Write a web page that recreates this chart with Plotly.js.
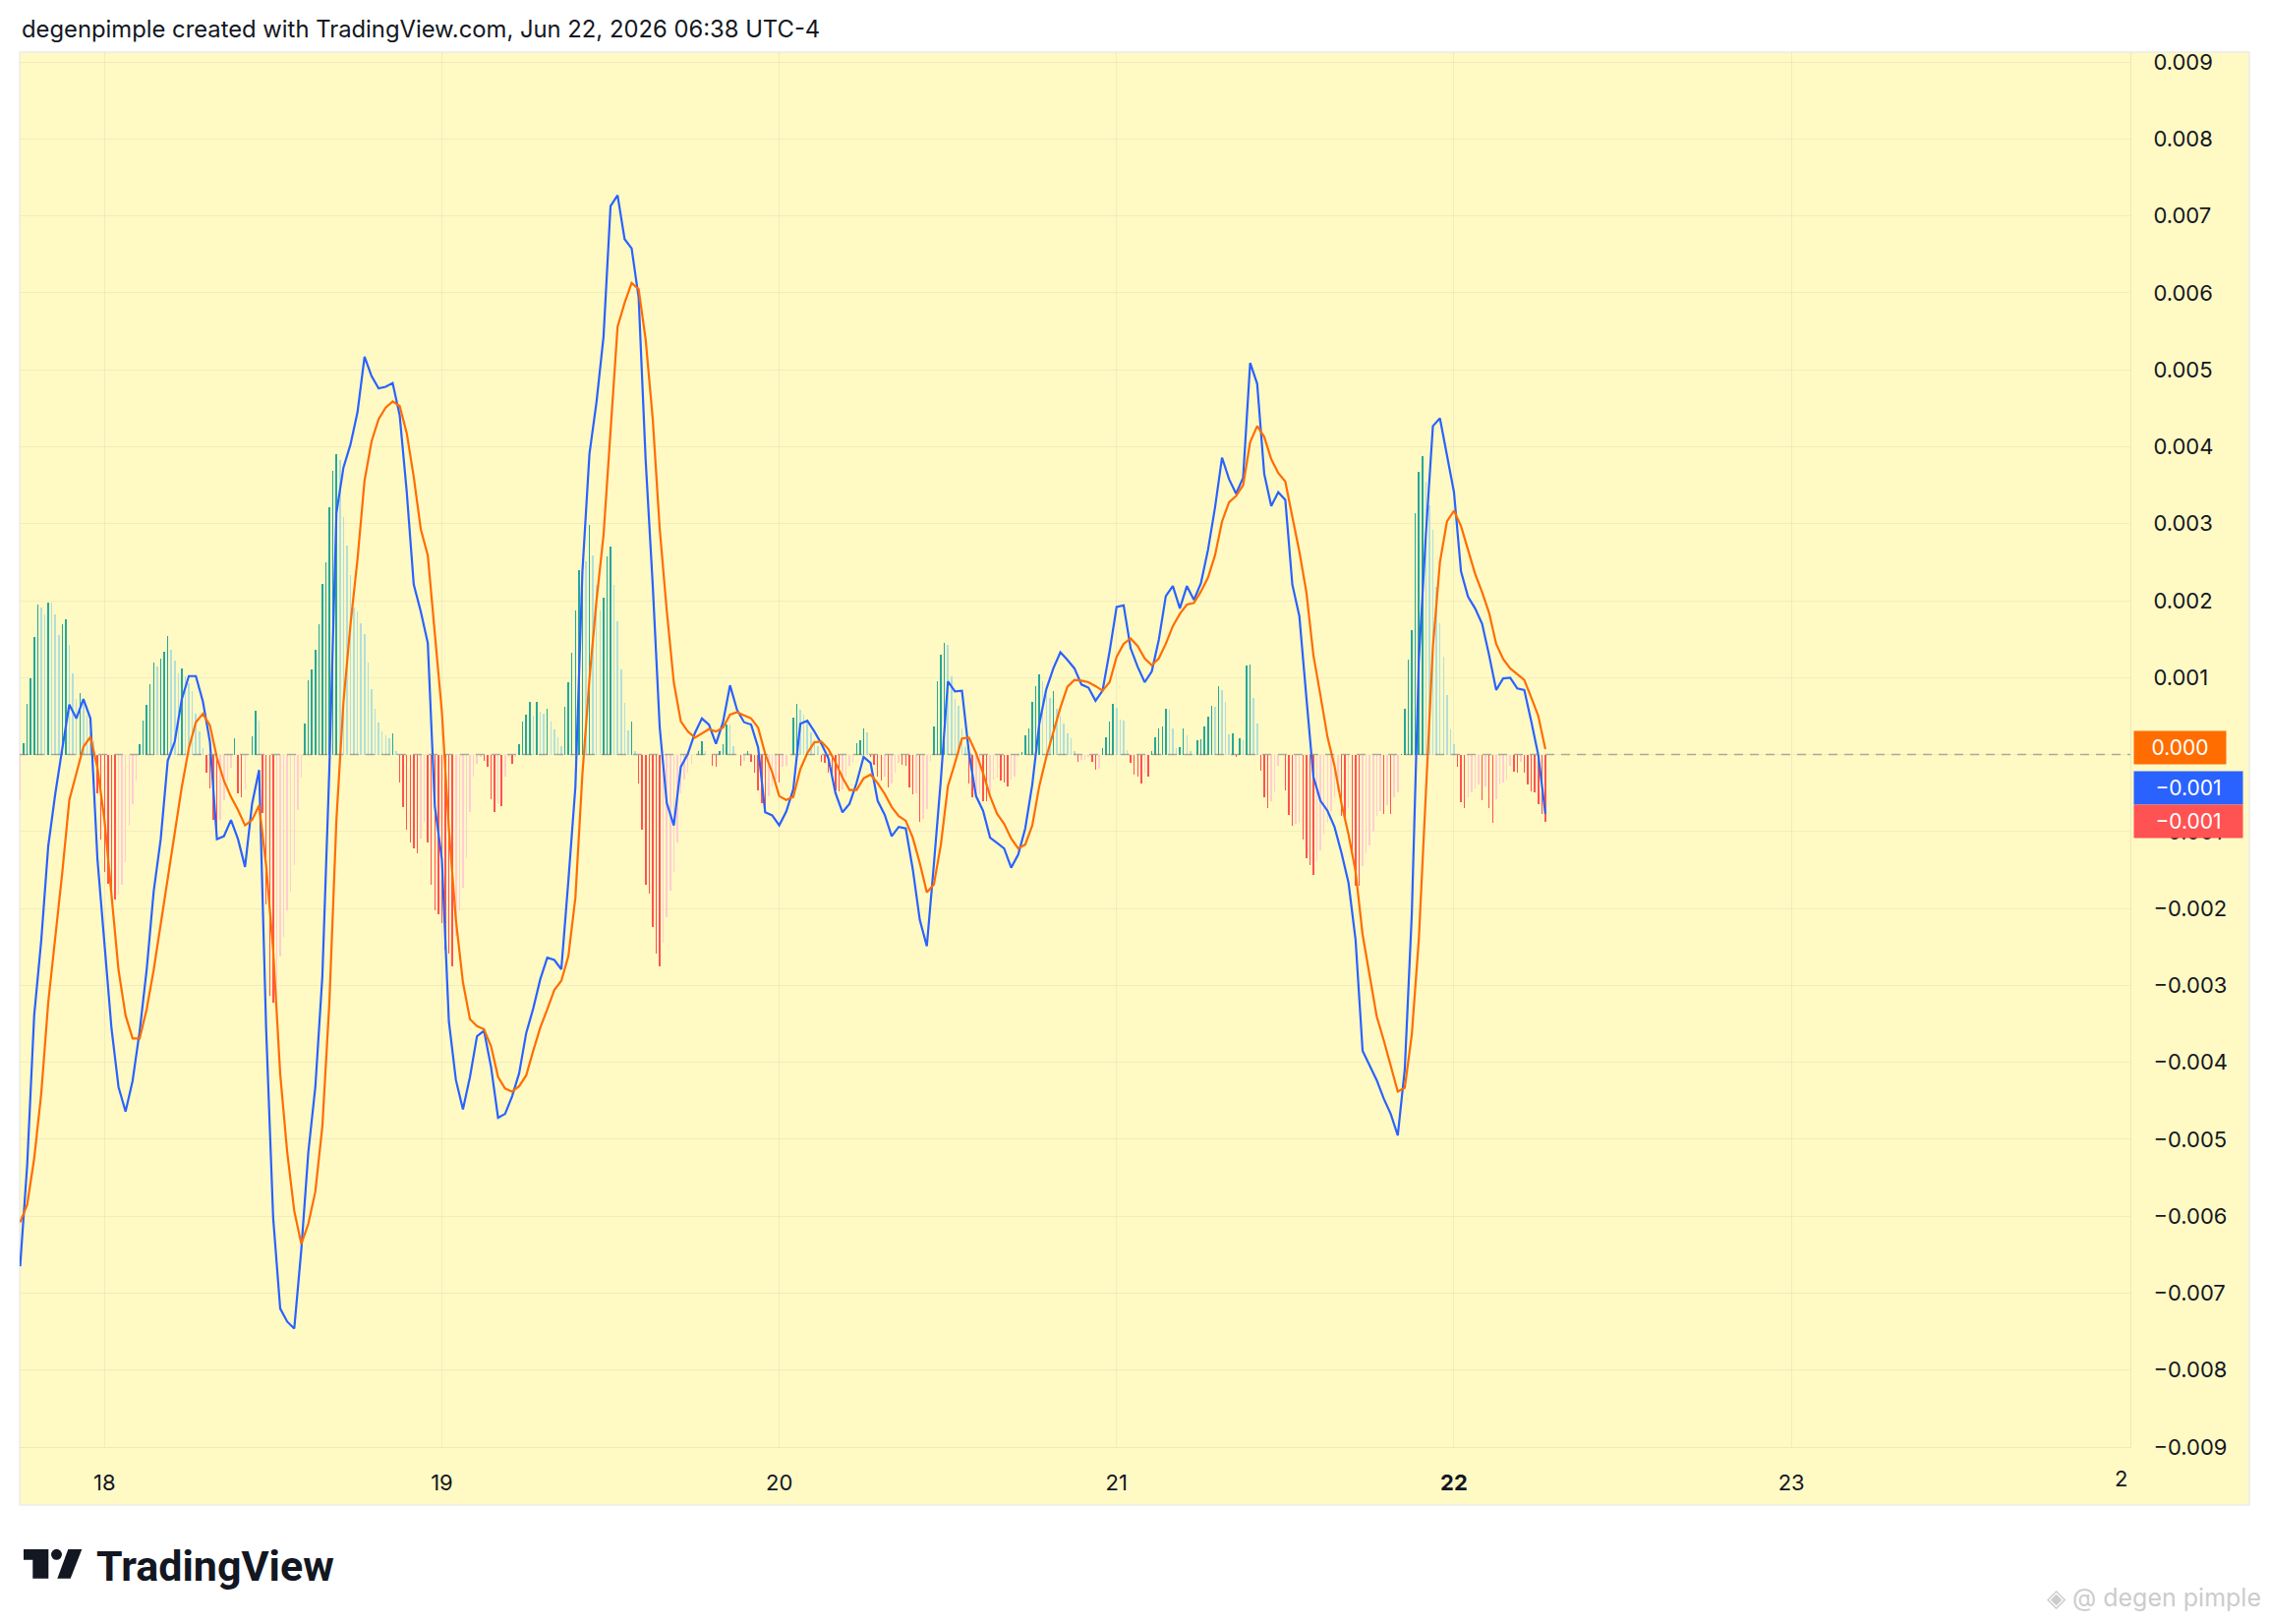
<!DOCTYPE html>
<html>
<head>
<meta charset="utf-8">
<script src="https://cdn.plot.ly/plotly-3.0.1.min.js"></script>
<style>
  html, body { margin: 0; padding: 0; background: #ffffff; }
  #chart { width: 2308px; height: 1652px; }
</style>
</head>
<body>
<div id="chart"></div>
<script>
// MACD panel, 15 min bars, Jun 17 18:00 -> Jun 22 06:30
// lines are read every 30 min, histogram every bar (15 min)

const LINE_START = Date.UTC(2026, 5, 17, 18, 0);
const LINE_STEP_MIN = 30;
const BAR_START = Date.UTC(2026, 5, 17, 18, 0);
const BAR_STEP_MIN = 15;

const macdLine = [
  // 17th, from 18:00
  -0.00665, -0.00534, -0.00339, -0.00242, -0.00119, -0.00051, 0.00008, 0.00065, 0.00047, 0.00072, 0.00047, -0.00136,
  // 18th
  -0.00246, -0.00356, -0.00432, -0.00464, -0.00424, -0.0036, -0.0028, -0.00178, -0.0011, -0.00008, 0.00017, 0.00072,
  0.00102, 0.00102, 0.00069, 0.00017, -0.0011, -0.00106, -0.00085, -0.0011, -0.00146, -0.00064, -0.0002, -0.00356,
  -0.00602, -0.0072, -0.00737, -0.00746, -0.00644, -0.00517, -0.00432, -0.00288, -0.00017, 0.00314, 0.00373, 0.00403,
  0.00445, 0.00517, 0.00492, 0.00476, 0.00478, 0.00483, 0.00441, 0.00342, 0.00221, 0.00186, 0.00145, -0.00067,
  // 19th
  -0.00136, -0.00347, -0.00423, -0.00461, -0.00419, -0.00366, -0.00359, -0.00406, -0.00472, -0.00467, -0.00444, -0.00414,
  -0.00362, -0.0033, -0.00292, -0.00264, -0.00267, -0.00279, -0.00164, -0.00042, 0.00238, 0.00391, 0.00458, 0.00543,
  0.00713, 0.00727, 0.0067, 0.00658, 0.00594, 0.00382, 0.00221, 0.00035, -0.00063, -0.00092, -0.00016, 0.00001,
  0.00028, 0.00047, 0.00039, 0.00014, 0.00042, 0.0009, 0.00058, 0.00042, 0.00039, 0.00009, -0.00075, -0.00079,
  // 20th
  -0.00092, -0.00074, -0.00045, 0.0004, 0.00044, 0.0003, 0.00014, -0.00005, -0.0005, -0.00075, -0.00064, -0.00037,
  -0.00003, -0.00011, -0.0006, -0.00078, -0.00106, -0.00094, -0.00096, -0.00149, -0.00215, -0.00249, -0.00143, -0.00032,
  0.00095, 0.00082, 0.00083, 0.00002, -0.00054, -0.00073, -0.00108, -0.00115, -0.00122, -0.00147, -0.0013, -0.00096,
  -0.00039, 0.0004, 0.00085, 0.00112, 0.00133, 0.00123, 0.00112, 0.00091, 0.00087, 0.0007, 0.00083, 0.00134,
  // 21st
  0.00192, 0.00194, 0.00138, 0.00114, 0.00094, 0.00108, 0.00149, 0.00206, 0.00219, 0.0019, 0.00219, 0.00201,
  0.00223, 0.00266, 0.00321, 0.00386, 0.00358, 0.00339, 0.0036, 0.00509, 0.00482, 0.00365, 0.00323, 0.00341,
  0.00331, 0.00221, 0.0018, 0.00074, -0.00029, -0.0006, -0.00073, -0.00094, -0.00128, -0.00167, -0.00241, -0.00385,
  -0.00405, -0.00423, -0.00447, -0.00467, -0.00495, -0.00409, -0.00207, 0.00122, 0.00286, 0.00427, 0.00437, 0.00389,
  // 22nd, to 06:30
  0.00341, 0.00238, 0.00205, 0.0019, 0.0017, 0.00129, 0.00084, 0.00099, 0.001, 0.00086, 0.00084, 0.00043, -0.00001, -0.00077
];

const signalLine = [
  -0.00608, -0.00585, -0.00525, -0.00441, -0.00322, -0.00237, -0.00153, -0.00059, -0.00025, 0.0001, 0.00023, -0.00017,
  -0.00085, -0.00186, -0.0028, -0.00339, -0.00369, -0.00369, -0.00331, -0.0028, -0.0022, -0.00161, -0.00102, -0.00042,
  0.00008, 0.00042, 0.00053, 0.00038, -0.00004, -0.00034, -0.00055, -0.00072, -0.00092, -0.00085, -0.00066, -0.00144,
  -0.00254, -0.00415, -0.00517, -0.00593, -0.00636, -0.0061, -0.00568, -0.00483, -0.00322, -0.00085, 0.00068, 0.00169,
  0.00254, 0.00356, 0.00407, 0.00436, 0.00451, 0.00459, 0.00453, 0.00418, 0.00361, 0.00293, 0.00259, 0.00158,
  0.00056, -0.00097, -0.00215, -0.00296, -0.00344, -0.00353, -0.00357, -0.00379, -0.00419, -0.00434, -0.00438, -0.00431,
  -0.00417, -0.00385, -0.00355, -0.00331, -0.00306, -0.00294, -0.00262, -0.00186, -0.00025, 0.00098, 0.002, 0.00285,
  0.00425, 0.00556, 0.00587, 0.00613, 0.00605, 0.00539, 0.00437, 0.00293, 0.00187, 0.00094, 0.00043, 0.0003,
  0.00022, 0.00027, 0.00033, 0.0003, 0.00035, 0.00052, 0.00055, 0.00051, 0.00047, 0.00035, 0.00001, -0.00023,
  -0.00054, -0.00059, -0.00055, -0.00019, 0.00002, 0.00016, 0.00017, 0.00007, -0.0001, -0.0003, -0.00046, -0.00046,
  -0.00031, -0.00026, -0.00037, -0.00051, -0.00068, -0.0008, -0.00086, -0.00108, -0.00141, -0.00179, -0.00169, -0.00117,
  -0.00041, -0.00011, 0.00021, 0.00022, 0.00002, -0.00024, -0.00054, -0.00077, -0.0009, -0.00109, -0.00122, -0.00117,
  -0.00092, -0.00041, -0.00003, 0.00029, 0.00061, 0.00088, 0.00097, 0.00096, 0.00094, 0.00089, 0.00083, 0.00094,
  0.00127, 0.00144, 0.00151, 0.00141, 0.00125, 0.00116, 0.00125, 0.00144, 0.00167, 0.00183, 0.00195, 0.00197,
  0.00212, 0.0023, 0.00259, 0.00303, 0.00328, 0.00336, 0.0035, 0.00406, 0.00427, 0.00413, 0.00384, 0.00366,
  0.00355, 0.00309, 0.00264, 0.00211, 0.00129, 0.00077, 0.00023, -0.00015, -0.00064, -0.00104, -0.00152, -0.00234,
  -0.00286, -0.0034, -0.00371, -0.00405, -0.00438, -0.00433, -0.00364, -0.0024, -0.0004, 0.0014, 0.0025, 0.00303,
  0.00317, 0.00297, 0.00266, 0.00235, 0.00211, 0.00184, 0.00144, 0.00124, 0.00112, 0.00105, 0.00097, 0.00074, 0.0005, 0.00007
];

const histBars = [
  // 17th, from 18:00
  -0.00059, 0.00015, 0.00066, 0.00099, 0.00153, 0.00195, 0.00191, 0.00182, 0.00197, 0.00197, 0.00182, 0.00155,
  0.00169, 0.00176, 0.00142, 0.00106, 0.00072, 0.0008, 0.00068, 0.00051, 0.0003, 0.00017, -0.0005, -0.0011,
  // 18th
  -0.00153, -0.00168, -0.00178, -0.00188, -0.00182, -0.00169, -0.0014, -0.00093, -0.00064, -0.00034, 0.00013, 0.00044,
  0.00065, 0.00092, 0.00119, 0.00114, 0.00125, 0.00133, 0.00154, 0.00136, 0.00122, 0.00105, 0.00112, 0.00102,
  0.00093, 0.00082, 0.00053, 0.0003, 0.00008, -0.00024, -0.00044, -0.00085, -0.0011, -0.00085, -0.00059, -0.00034,
  -0.00017, 0.00021, -0.0005, -0.00056, -0.00045, 0.0, 0.00024, 0.00057, 0.00044, -0.00076, -0.00195, -0.00314,
  -0.00322, -0.00318, -0.00263, -0.00237, -0.00203, -0.00178, -0.00144, -0.00072, -0.0003, 0.0004, 0.00097, 0.0011,
  0.00136, 0.00169, 0.00222, 0.0025, 0.00322, 0.00369, 0.0039, 0.00383, 0.00309, 0.00271, 0.00233, 0.00191,
  0.00186, 0.00171, 0.00157, 0.00119, 0.00085, 0.00059, 0.00042, 0.0003, 0.00025, 0.00021, 0.00028, 0.00004,
  -0.00036, -0.00068, -0.00097, -0.00114, -0.00122, -0.00128, -0.00109, -0.00088, -0.00114, -0.00169, -0.00203, -0.00207,
  // 19th
  -0.00219, -0.00253, -0.00258, -0.00275, -0.00236, -0.00203, -0.00173, -0.00135, -0.00075, -0.00029, -0.00012, -0.00003,
  -0.00008, -0.00016, -0.00058, -0.00075, -0.00063, -0.00067, -0.00029, -0.00003, -0.00012, -0.00003, 0.00014, 0.00043,
  0.00052, 0.00069, 0.0005, 0.00069, 0.00056, 0.00053, 0.0006, 0.00043, 0.00033, 0.00022, 0.00011, 0.00062,
  0.00094, 0.00132, 0.00187, 0.0024, 0.00255, 0.00251, 0.00299, 0.00259, 0.00221, 0.00187, 0.00204, 0.00258,
  0.0027, 0.00221, 0.00173, 0.00111, 0.00067, 0.00031, 0.00043, 0.00005, -0.00037, -0.00097, -0.00169, -0.00181,
  -0.00224, -0.00258, -0.00275, -0.00245, -0.00211, -0.00177, -0.00152, -0.00114, -0.0005, -0.00033, -0.00023, -0.00012,
  0.0, 0.00005, 0.00018, 0.00005, 0.0, -0.00014, -0.00016, 0.00005, 0.00014, 0.00039, 0.00039, 0.00011,
  0.0, -0.00014, -0.00008, 0.00005, -0.00009, -0.00023, -0.00046, -0.00063, -0.00075, -0.00054, -0.00042, -0.00033,
  // 20th
  -0.00036, -0.00016, -0.00014, 0.0, 0.00048, 0.00066, 0.00058, 0.00052, 0.00044, 0.00029, 0.00019, 0.00011,
  -0.00009, -0.00011, -0.00024, -0.00034, -0.00047, -0.00048, -0.00045, -0.00028, -0.00015, -0.00011, 0.00015, 0.00019,
  0.00034, 0.00029, -0.00003, -0.00013, -0.00028, -0.00034, -0.00028, -0.00043, -0.00037, -0.00024, -0.00011, -0.00013,
  -0.00015, -0.00043, -0.00051, -0.0005, -0.00087, -0.00083, -0.00071, -0.0001, 0.00036, 0.00095, 0.0013, 0.00145,
  0.00142, 0.00102, 0.00072, 0.00063, 0.00034, 0.0001, -0.00037, -0.00056, -0.00054, -0.00051, -0.0006, -0.00061,
  -0.00049, -0.00032, -0.0003, -0.00034, -0.00036, -0.00041, -0.00032, -0.00028, -0.00003, 0.00003, 0.00025, 0.00034,
  0.00069, 0.00089, 0.00104, 0.00095, 0.00078, 0.00074, 0.00083, 0.00059, 0.00051, 0.00041, 0.00027, 0.00021,
  0.00005, -0.00009, -0.00007, -0.00007, -0.00003, -0.00009, -0.0002, -0.00019, 0.00008, 0.00023, 0.00043, 0.00066,
  // 21st
  0.00061, 0.00046, 0.00044, 0.00006, -0.00011, -0.00026, -0.00028, -0.00037, -0.00024, -0.00028, 0.00005, 0.00023,
  0.00034, 0.00036, 0.0006, 0.00058, 0.00034, 0.00008, 0.0001, 0.00034, 0.00025, 0.00004, 0.00001, 0.00019,
  0.0002, 0.00036, 0.00049, 0.00064, 0.00062, 0.00089, 0.00084, 0.00068, 0.00026, 0.00028, -0.00003, 0.00021,
  0.00019, 0.00116, 0.00117, 0.00074, 0.0004, -0.00021, -0.00055, -0.0007, -0.0006, -0.00049, -0.00015, -0.00001,
  -0.00046, -0.00078, -0.00092, -0.0009, -0.00089, -0.00111, -0.00135, -0.00144, -0.00156, -0.00138, -0.00125, -0.00104,
  -0.00089, -0.00073, -0.00056, -0.00048, -0.0008, -0.00081, -0.0007, -0.00132, -0.0017, -0.00171, -0.00145, -0.00128,
  -0.00118, -0.001, -0.0008, -0.00073, -0.00077, -0.00066, -0.00077, -0.00056, -0.00049, 0.00001, 0.0006, 0.00123,
  0.00162, 0.00314, 0.00368, 0.00388, 0.00355, 0.00324, 0.00292, 0.00218, 0.00171, 0.00127, 0.00077, 0.00033,
  // 22nd, to 06:30
  0.00014, -0.00016, -0.00062, -0.0007, -0.00056, -0.00049, -0.00044, -0.00039, -0.00059, -0.00042, -0.0007, -0.00089,
  -0.00058, -0.00039, -0.00036, -0.00032, -0.00014, -0.00022, -0.00023, -0.0001, -0.00023, -0.00039, -0.00048, -0.00049,
  -0.00064, -0.00077, -0.00087
];

const dayTicks = ['2026-06-18', '2026-06-19', '2026-06-20', '2026-06-21', '2026-06-22', '2026-06-23'];
const dayLabels = ['18', '19', '20', '21', '<b>22</b>', '23'];

// price scale levels; the 0.000 level sits under the signal tag
const priceTicks = [0.009, 0.008, 0.007, 0.006, 0.005, 0.004, 0.003, 0.002, 0.001,
  -0.001, -0.002, -0.003, -0.004, -0.005, -0.006, -0.007, -0.008, -0.009];

const COLORS = {
  macd: '#2962FF',
  signal: '#FF6D00',
  growAbove: '#26A69A',
  fallAbove: '#B2DFDB',
  growBelow: '#FFCDD2',
  fallBelow: '#FF5252',
  panel: '#FFF9C4',
  grid: 'rgba(42,46,57,0.06)',
  text: '#131722'
};

function timeAxis(start, stepMin, n) {
  let out = [];
  for (let i = 0; i < n; i++) {
    out.push(new Date(start + i * stepMin * 60000).toISOString().slice(0, 19).replace('T', ' '));
  }
  return out;
}

// tradingview style colouring of the histogram
function barColors(vals) {
  return vals.map((v, i) => {
    let prev = i > 0 ? vals[i - 1] : v;
    if (v >= 0) return v > prev ? COLORS.growAbove : COLORS.fallAbove;
    return v < prev ? COLORS.fallBelow : COLORS.growBelow;
  });
}

function fmt(v) {
  return v.toFixed(3).replace('-', '\u2212');
}

// plot area in pixels: x 20..2167, y 53..1472
const W = 2308, H = 1652;
const L = 20, R = 2167, T = 53, B = 1472;
const px = x => (x - L) / (R - L);
const py = y => (B - y) / (B - T);

let lineTimes = timeAxis(LINE_START, LINE_STEP_MIN, macdLine.length);
let barTimes = timeAxis(BAR_START, BAR_STEP_MIN, histBars.length);

let histTrace = {
  x: barTimes,
  y: histBars,
  type: 'bar',
  width: BAR_STEP_MIN * 60000 * 0.42,
  marker: { color: barColors(histBars), line: { width: 0 } },
  hoverinfo: 'skip'
};

let macdTrace = {
  x: lineTimes,
  y: macdLine,
  type: 'scatter',
  mode: 'lines',
  line: { color: COLORS.macd, width: 2.2 },
  hoverinfo: 'skip'
};

let signalTrace = {
  x: lineTimes,
  y: signalLine,
  type: 'scatter',
  mode: 'lines',
  line: { color: COLORS.signal, width: 2.2 },
  hoverinfo: 'skip'
};

let lastHist = histBars[histBars.length - 1];
let lastMacd = macdLine[macdLine.length - 1];
let lastSignal = signalLine[signalLine.length - 1];

function tag(text, bg, shift, w) {
  return {
    xref: 'paper', yref: 'y',
    x: px(2170), y: lastHist,
    xanchor: 'left', yanchor: 'middle',
    yshift: shift,
    text: text,
    showarrow: false,
    bgcolor: bg,
    width: w, height: 33,
    borderpad: 0,
    align: 'center',
    font: { family: 'Inter, Roboto, sans-serif', size: 21, color: '#ffffff' }
  };
}

let layout = {
  width: W,
  height: H,
  margin: { l: L, r: W - R, t: T, b: H - B, pad: 0 },
  paper_bgcolor: '#ffffff',
  plot_bgcolor: 'rgba(0,0,0,0)',
  showlegend: false,
  bargap: 0,
  font: { family: 'Inter, Roboto, sans-serif', color: COLORS.text },
  xaxis: {
    type: 'date',
    range: ['2026-06-17 17:58', '2026-06-24 00:07'],
    tickvals: dayTicks,
    ticktext: dayLabels,
    showgrid: true,
    gridcolor: COLORS.grid,
    gridwidth: 1,
    showline: true,
    linecolor: 'rgba(42,46,57,0.08)',
    linewidth: 1,
    ticks: '',
    ticklabelstandoff: 17,
    tickfont: { size: 22, color: COLORS.text },
    zeroline: false,
    fixedrange: true
  },
  yaxis: {
    side: 'right',
    range: [-0.009, 0.00913],
    tickvals: priceTicks,
    ticktext: priceTicks.map(fmt),
    showgrid: true,
    gridcolor: COLORS.grid,
    gridwidth: 1,
    showline: true,
    linecolor: 'rgba(42,46,57,0.08)',
    linewidth: 1,
    ticks: '',
    ticklabelstandoff: 18,
    tickfont: { size: 22, color: COLORS.text },
    zeroline: false,
    fixedrange: true
  },
  shapes: [
    // yellow pane incl. price and time scales
    {
      type: 'rect', xref: 'paper', yref: 'paper', layer: 'below',
      x0: 0, x1: px(2288), y0: py(1531), y1: 1,
      fillcolor: COLORS.panel,
      line: { color: '#ececec', width: 1.5 }
    },
    // grid line at the 0.000 level (its label is hidden by the tag)
    {
      type: 'line', xref: 'paper', yref: 'y',
      x0: 0, x1: 1, y0: 0, y1: 0,
      line: { color: COLORS.grid, width: 1 }
    },
    // zero level
    {
      type: 'line', xref: 'paper', yref: 'y',
      x0: 0, x1: 1, y0: 0, y1: 0,
      line: { color: 'rgba(120,123,134,0.6)', width: 1.5, dash: '9px,7px' }
    },
    // logo mark
    {
      type: 'path', xref: 'paper', yref: 'paper',
      path: 'M ' + px(24) + ',' + py(1576) + ' L ' + px(49.3) + ',' + py(1576) +
            ' L ' + px(49.3) + ',' + py(1605.7) + ' L ' + px(33.3) + ',' + py(1605.7) +
            ' L ' + px(33.3) + ',' + py(1586.7) + ' L ' + px(24) + ',' + py(1586.7) + ' Z',
      fillcolor: COLORS.text, line: { width: 0 }
    },
    {
      type: 'circle', xref: 'paper', yref: 'paper',
      x0: px(52), x1: px(63), y0: py(1586.8), y1: py(1575.8),
      fillcolor: COLORS.text, line: { width: 0 }
    },
    {
      type: 'path', xref: 'paper', yref: 'paper',
      path: 'M ' + px(58.3) + ',' + py(1605.7) + ' L ' + px(71.7) + ',' + py(1605.7) +
            ' L ' + px(83.3) + ',' + py(1576) + ' L ' + px(69.3) + ',' + py(1576) + ' Z',
      fillcolor: COLORS.text, line: { width: 0 }
    }
  ],
  annotations: [
    {
      xref: 'paper', yref: 'paper', x: 0, y: py(29),
      xanchor: 'left', yanchor: 'middle', showarrow: false,
      text: 'degenpimple created with TradingView.com, Jun 22, 2026 06:38 UTC-4',
      font: { family: 'Inter, Roboto, sans-serif', size: 23.8, color: COLORS.text }
    },
    {
      xref: 'x', yref: 'paper', x: '2026-06-24', y: py(1504),
      xanchor: 'right', yanchor: 'middle', showarrow: false, xshift: 1,
      text: '2',
      font: { size: 22, color: COLORS.text }
    },
    {
      xref: 'paper', yref: 'paper', x: px(96), y: py(1593),
      xanchor: 'left', yanchor: 'middle', showarrow: false,
      text: '<b>TradingView</b>',
      font: { family: 'Roboto, sans-serif', size: 43, color: COLORS.text }
    },
    {
      xref: 'paper', yref: 'paper', x: px(2302), y: py(1625),
      xanchor: 'right', yanchor: 'middle', showarrow: false,
      text: '\u25C8 @ degen pimple',
      font: { family: 'Inter, Roboto, sans-serif', size: 25, color: '#cccccc' }
    },
    tag(fmt(lastSignal), COLORS.signal, 75, 93),
    tag(fmt(lastMacd), COLORS.macd, 34, 110),
    tag(fmt(lastHist), COLORS.fallBelow, 0, 110)
  ]
};

Plotly.newPlot('chart', [histTrace, macdTrace, signalTrace], layout, { staticPlot: true, displayModeBar: false });
</script>
</body>
</html>
